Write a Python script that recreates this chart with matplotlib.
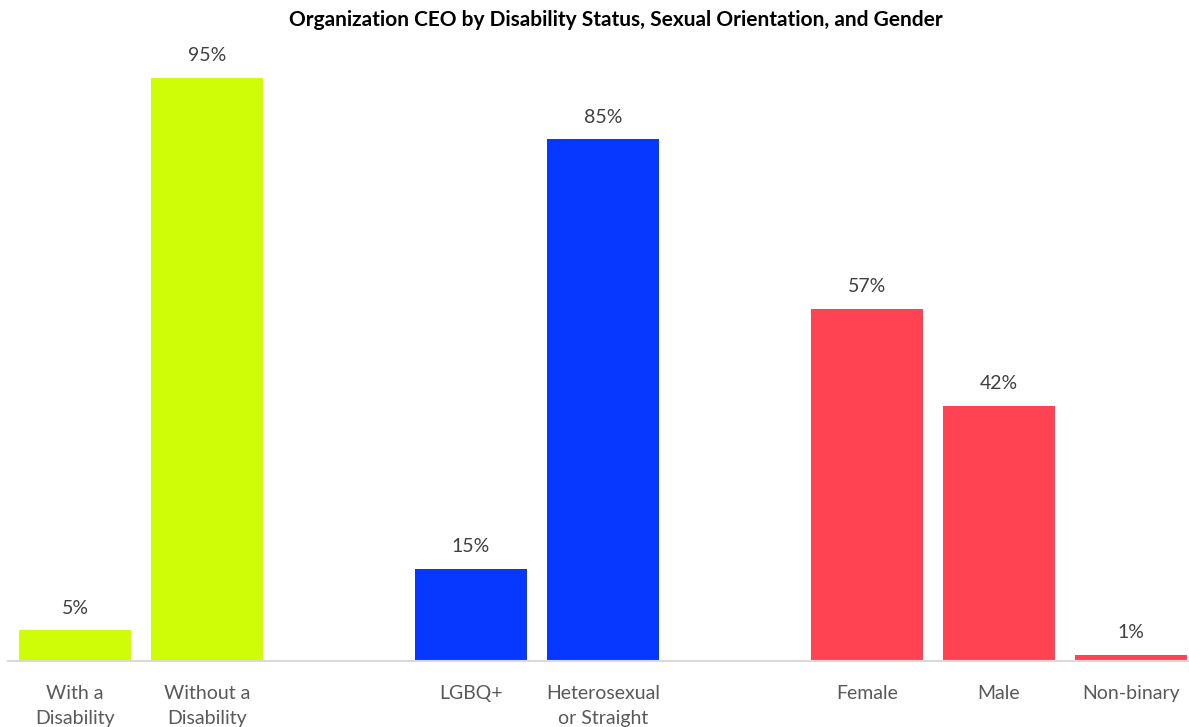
import matplotlib
matplotlib.use("Agg")
import matplotlib.pyplot as plt

# categories, with empty slots between the three groups
categories = ["With a\nDisability", "Without a\nDisability", "",
              "LGBQ+", "Heterosexual\nor Straight", "",
              "Female", "Male", "Non-binary"]
values = [5, 95, None, 15, 85, None, 57.4, 41.6, 1]
bar_colors = ["#cffc07", "#cffc07", None, "#0638ff", "#0638ff", None,
              "#ff4353", "#ff4353", "#ff4353"]

plt.rcParams["font.family"] = ["Lato", "DejaVu Sans"]

fig = plt.figure(figsize=(11.89, 7.27), dpi=100)
ax = fig.add_axes([0, 66 / 727, 1, (661 - 47.3) / 727])

for i, (v, c) in enumerate(zip(values, bar_colors)):
    if v is None:
        continue
    ax.bar(i, v, width=0.85, color=c, zorder=2)
    ax.text(i, v + 2.2, f"{round(v)}%", ha="center", va="bottom",
            fontsize=14, color="#404040")

ax.set_xlim(-0.568, 8.439)
ax.set_ylim(0, 100)
ax.set_xticks(range(len(categories)))
ax.set_xticklabels(categories, fontsize=14, color="#595959", linespacing=1.6)
ax.tick_params(axis="x", length=0, pad=17)
ax.set_yticks([])
for s in ["top", "right", "left"]:
    ax.spines[s].set_visible(False)
ax.spines["bottom"].set_color("#d9d9d9")
ax.spines["bottom"].set_linewidth(1.5)
ax.spines["bottom"].set_bounds(-0.505, 8.439)

fig.text(616 / 1189, 1 - 20 / 727, "Organization CEO by Disability Status, Sexual Orientation, and Gender",
         ha="center", va="center", fontsize=15, fontweight="bold", color="#000000")

fig.savefig("out.png", dpi=100)
